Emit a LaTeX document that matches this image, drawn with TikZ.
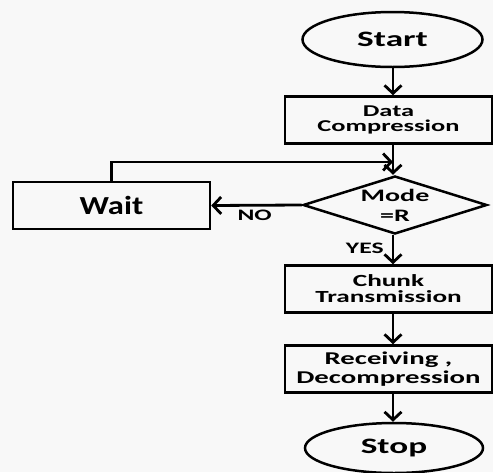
\documentclass[tikz,border=0pt]{standalone}
\usepackage{fontspec}
\newfontfamily\flowfont[FakeStretch=1.6]{Carlito}
\newfontfamily\waitfont[FakeStretch=1.25]{Carlito}
\usetikzlibrary{arrows.meta, positioning, shapes.geometric}
\definecolor{paper}{RGB}{248,248,248}

\begin{document}
\begin{tikzpicture}[x=1pt, y=-1pt,
  every node/.style={font=\flowfont\bfseries},
  term/.style={ellipse, draw, line width=2.5pt, minimum width=180pt, minimum height=55pt, inner sep=0pt, font=\flowfont\bfseries\fontsize{22}{24}\selectfont},
  bx/.style={draw, line width=2.5pt, minimum width=207pt, minimum height=47pt, align=center, inner sep=0pt},
  dm/.style={diamond, draw, line width=2.5pt, aspect=3.2, minimum width=184pt, minimum height=58pt, inner sep=0pt, align=center},
  a/.style={-{Straight Barb[length=8pt,width=17pt]}, line width=2.8pt},
  al/.style={font=\flowfont\bfseries\fontsize{16}{18}\selectfont, inner sep=1pt}]
\fill[paper] (0,0) rectangle (493,472);
\useasboundingbox (0,0) rectangle (493,472);
\node[term] (start) at (392.5,39.5) {Start};
\node[bx, font=\flowfont\bfseries\fontsize{16.5}{15}\selectfont] (comp) at (388.5,120) {Data\\Compression};
\node[dm, font=\flowfont\bfseries\fontsize{17.5}{20}\selectfont] (mode) at (395,205) {Mode\\=R};
\node[bx, minimum width=197pt, font=\waitfont\bfseries\fontsize{26}{28}\selectfont] (wait) at (111.5,205.5) {Wait};
\node[bx, font=\flowfont\bfseries\fontsize{17}{16}\selectfont] (chunk) at (388.5,289) {Chunk\\Transmission};
\node[bx, font=\flowfont\bfseries\fontsize{18}{19}\selectfont] (recv) at (388.5,369) {Receiving ,\\Decompression};
\node[term, minimum width=178pt, minimum height=50pt] (stop) at (394,448) {Stop};
\coordinate (join) at (393,162);
\draw[a] (start.south -| join) -- (comp.north -| join);
\draw[a] (comp.south -| join) -- (mode.north -| join);
\draw[a] (wait.north) |- (join);
\draw[a] (mode.west) -- node[al, below=2pt, pos=0.52]{NO} (wait.east);
\draw[a] (mode.south -| join) -- node[al, left=7pt, pos=0.45]{YES} (chunk.north -| join);
\draw[a] (chunk.south -| join) -- (recv.north -| join);
\draw[a] (recv.south -| join) -- (stop.north -| join);
\end{tikzpicture}
\end{document}
